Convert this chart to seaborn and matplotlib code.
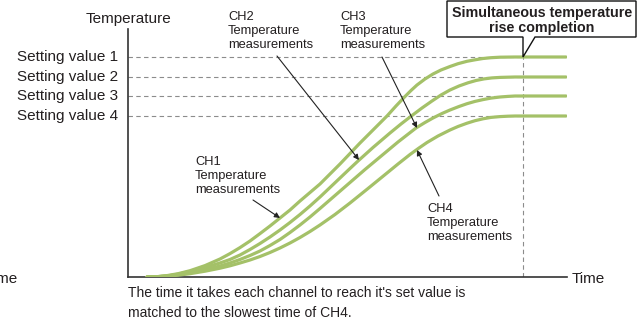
import numpy as np
import pandas as pd
import matplotlib
matplotlib.use('Agg')
import matplotlib.pyplot as plt
from matplotlib.patches import Polygon
import seaborn as sns

# time axis runs 0..439, temperature axis 0..248 (arbitrary units)
ch1_time = [19, 29, 39, 50, 62, 77, 92, 102, 112, 122, 132, 142, 152, 162, 172, 182, 192, 202, 212, 222,
            232, 245, 259, 268, 277, 283, 289, 297, 305, 313, 322, 330, 339, 347, 355, 363, 372, 387, 438]
ch1_temp = [0, 0.3, 1.4, 3.3, 6.3, 11.4, 18, 23.4, 29.4, 36, 43.4, 51, 59, 67, 76, 84.5, 93, 103, 113, 123.5,
            134, 147, 161, 171, 180.5, 186.5, 192, 198, 203, 207, 210.5, 213.3, 215.7, 217.2, 218.5, 219.3,
            219.8, 220, 220]
ch2_time = [19, 29, 39, 50, 62, 77, 92, 102, 112, 122, 132, 142, 152, 162, 172, 182, 192, 202, 212, 222,
            230, 245, 262, 273, 284, 294, 304, 313, 322, 331, 340, 348, 356, 364, 372, 387, 438]
ch2_temp = [0, 0.3, 1, 2.8, 5.5, 9.5, 14, 17.5, 22, 27.5, 33.5, 40, 47, 54.5, 62.5, 71, 80, 89.5, 99, 108.5,
            116, 129.5, 144, 153, 161.5, 169, 176, 182, 187, 191, 194.2, 196.5, 198.1, 199.1, 199.6, 200, 200]
ch3_time = [19, 29, 39, 50, 62, 77, 92, 102, 112, 122, 132, 142, 152, 162, 172, 182, 192, 207, 222, 237,
            252, 270, 288, 297, 305, 314, 322, 331, 339, 347, 355, 363, 372, 380, 387, 438]
ch3_temp = [0, 0.3, 1, 2.3, 4.2, 7.3, 11, 14, 17.5, 21.5, 26, 31.5, 37.5, 44.5, 52, 60, 68.5, 81.5, 94.5, 107.5,
            120, 135, 149, 154.5, 159, 163.5, 167, 170.5, 173.3, 175.6, 177.4, 178.9, 180, 180.6, 181, 181]
ch4_time = [19, 29, 39, 50, 62, 77, 92, 102, 112, 122, 132, 142, 152, 162, 172, 182, 192, 207, 222, 240,
            259, 270, 282, 291, 299, 310, 322, 330, 339, 347, 355, 363, 372, 380, 387, 438]
ch4_temp = [0, 0.2, 0.8, 1.8, 3.3, 5.8, 8.8, 11.2, 14, 17, 20.5, 24.5, 29, 34, 39.5, 45.5, 52, 62.5, 74, 88.5,
            104, 113, 122.5, 129, 134.5, 141, 147, 150.5, 153.8, 156.3, 158.2, 159.6, 160.4, 160.8, 161, 161]

setting_values = [220, 200, 181, 161]
setting_labels = ['Setting value 1', 'Setting value 2', 'Setting value 3', 'Setting value 4']
completion_time = 395

curves = pd.concat([
    pd.DataFrame({'time': ch1_time, 'temp': ch1_temp, 'ch': 'CH1'}),
    pd.DataFrame({'time': ch2_time, 'temp': ch2_temp, 'ch': 'CH2'}),
    pd.DataFrame({'time': ch3_time, 'temp': ch3_temp, 'ch': 'CH3'}),
    pd.DataFrame({'time': ch4_time, 'temp': ch4_temp, 'ch': 'CH4'}),
])

sns.set_style('white')
plt.rcParams['font.family'] = ['Liberation Sans', 'DejaVu Sans']

W, H = 640, 324
fig = plt.figure(figsize=(W / 100, H / 100), dpi=100)
ax = fig.add_axes([128 / W, 1 - 277 / H, 439 / W, 248 / H])

def fp(x, y):
    # pixel position -> figure fraction
    return (x / W, 1 - y / H)

txt = '#231f20'
green = '#a4c168'

# dashed setting lines and completion line
for v in setting_values:
    ax.plot([0, completion_time], [v, v], color='#8c8c8c', lw=0.8, dashes=(4, 3), zorder=1)
ax.plot([completion_time, completion_time], [0, setting_values[0]], color='#8c8c8c', lw=0.8,
        dashes=(4, 3), zorder=1)

sns.lineplot(data=curves, x='time', y='temp', units='ch', estimator=None, sort=False,
             color=green, lw=2.3, ax=ax, zorder=3)
for ln in ax.lines:
    ln.set_solid_joinstyle('round')

ax.set_xlim(0, 439)
ax.set_ylim(0, 248)
ax.set_xticks([])
ax.set_yticks([])
ax.set_xlabel('')
ax.set_ylabel('')
for s in ['top', 'right']:
    ax.spines[s].set_visible(False)
for s in ['left', 'bottom']:
    ax.spines[s].set_color('#333333')
    ax.spines[s].set_linewidth(1.2)

# axis titles
fig.text(*fp(128, 19), 'Temperature', ha='center', va='center', fontsize=11, color=txt)
fig.text(*fp(572, 279), 'Time', ha='left', va='center', fontsize=11, color=txt)
fig.text(*fp(18, 279), 'Time', ha='right', va='center', fontsize=11, color=txt)

for v, lab in zip(setting_values, setting_labels):
    fig.text(118 / W, 1 - (277 - v) / H, lab, ha='right', va='center', fontsize=11, color=txt)

# channel callouts
notes = [
    ('CH2\nTemperature\nmeasurements', (228, 31), (277, 56), (231, 117)),
    ('CH3\nTemperature\nmeasurements', (340, 31), (382, 57), (289, 149)),
    ('CH1\nTemperature\nmeasurements', (195, 176), (253, 200), (152, 59)),
    ('CH4\nTemperature\nmeasurements', (427, 223), (439, 196), (289, 127)),
]
for label, pos, start, tip in notes:
    fig.text(*fp(*pos), label, ha='left', va='center', fontsize=9.3, color=txt, linespacing=1.25)
    ax.annotate('', xy=tip, xycoords='data', xytext=fp(*start), textcoords='figure fraction',
                arrowprops=dict(arrowstyle='-|>', lw=0.8, color='#222222', mutation_scale=8,
                                shrinkA=0, shrinkB=0), zorder=5)

# completion callout box
box = [(447, 1), (636, 1), (636, 37), (535, 37), (523, 57), (523, 37), (447, 37)]
fig.add_artist(Polygon([fp(x, y) for x, y in box], closed=True, transform=fig.transFigure,
                       facecolor='white', edgecolor='#111111', lw=1, zorder=6))
fig.text(*fp(542, 13), 'Simultaneous temperature', ha='center', va='center', fontsize=10.3,
         fontweight='bold', color=txt, zorder=7)
fig.text(*fp(542, 28), 'rise completion', ha='center', va='center', fontsize=10.3,
         fontweight='bold', color=txt, zorder=7)

# caption
fig.text(*fp(128, 293), "The time it takes each channel to reach it's set value is",
         ha='left', va='center', fontsize=10, color=txt)
fig.text(*fp(128, 313), 'matched to the slowest time of CH4.',
         ha='left', va='center', fontsize=10, color=txt)

fig.savefig('out.png', dpi=100)
